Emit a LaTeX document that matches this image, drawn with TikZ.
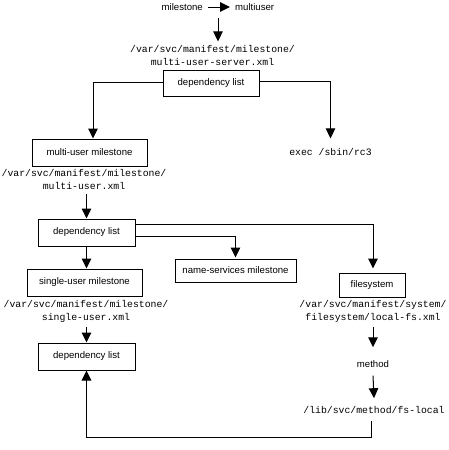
\documentclass[tikz,border=0pt]{standalone}
\usepackage{fontspec}
\setmainfont{Liberation Sans}
\newfontfamily\monof{Liberation Mono}
\usetikzlibrary{arrows.meta}
\tikzset{
  lbl/.style={inner sep=0pt, font=\fontsize{9.6}{11}\selectfont},
  mono/.style={inner sep=0pt, align=center, font=\monof\fontsize{9.8}{13}\selectfont},
  boxn/.style={draw, line width=1pt, inner sep=0pt, font=\fontsize{9.6}{11}\selectfont},
  arr/.style={line width=1pt, -{Triangle[length=10pt,width=9.5pt]}},
  ln/.style={line width=1pt}
}
\begin{document}
\begin{tikzpicture}[x=1pt,y=-1pt]
\useasboundingbox (0,0) rectangle (448,450);
% top labels
\node[lbl, anchor=east] (ms) at (203,7) {milestone};
\node[lbl, anchor=west] (mu) at (235,7) {multiuser};
\coordinate (topc) at (218,18);
\node[mono, outer ysep=4pt] (p1) at (212.5,55.5) {/var/svc/manifest/milestone/\\multi-user-server.xml};
\node[boxn, minimum width=96pt, minimum height=26pt] (box1) at (211,83) {dependency list};
\node[boxn, minimum width=115pt, minimum height=27pt] (mum) at (89.5,152.5) {multi-user milestone};
\node[mono, outer ysep=10pt] (exec) at (330.5,152) {exec /sbin/rc3};
\node[mono, outer ysep=4.5pt] (p2) at (84,179.5) {/var/svc/manifest/milestone/\\multi-user.xml};
\node[boxn, minimum width=97pt, minimum height=27pt] (dl2) at (86.5,232.5) {dependency list};
\node[boxn, minimum width=121pt, minimum height=23pt] (ns) at (235.5,270.5) {name-services milestone};
\node[boxn, minimum width=115pt, minimum height=27pt] (su) at (84.5,282.5) {single-user milestone};
\node[boxn, minimum width=66pt, minimum height=24pt] (fs) at (372,285) {filesystem};
\node[mono, outer ysep=4pt] (p3) at (86,311.5) {/var/svc/manifest/milestone/\\single-user.xml};
\node[mono, outer ysep=4pt] (p4) at (373,311.5) {/var/svc/manifest/system/\\filesystem/local-fs.xml};
\node[boxn, minimum width=97pt, minimum height=27pt] (dl3) at (86.5,356.5) {dependency list};
\node[lbl] (method) at (373,364) {method};
\node[mono] (fsl) at (374,410) {/lib/svc/method/fs-local};
% connectors
\draw[arr, shorten <=5pt, shorten >=5pt] (ms.east) -- (mu.west);
\draw[arr] (topc) -- (topc |- p1.north);
\draw[arr] ([yshift=1pt]box1.west) -| ([xshift=3.5pt]mum.north);
\draw[arr] ([yshift=2pt]box1.east) -| (exec.north);
\draw[arr] (p2.south -| dl2.north) -- (dl2.north);
\draw[arr] ([yshift=8.5pt]dl2.east) -| ([xshift=1pt,yshift=4pt]fs.north);
\draw[arr] ([yshift=-3.5pt]dl2.east) -| ([yshift=1pt]ns.north);
\draw[arr] (dl2.south) -- (dl2.south |- su.north);
\draw[arr] (p3.south -| dl3.north) -- (dl3.north);
\draw[arr] (p4.south) -- ([yshift=13pt]method.north);
\draw[arr] ([yshift=-8pt]method.south) -- ([yshift=8pt]fsl.north);
\draw[arr] ([xshift=-3pt,yshift=-7pt]fsl.south) -- ++(0,17) -| (dl3.south);
\end{tikzpicture}
\end{document}
